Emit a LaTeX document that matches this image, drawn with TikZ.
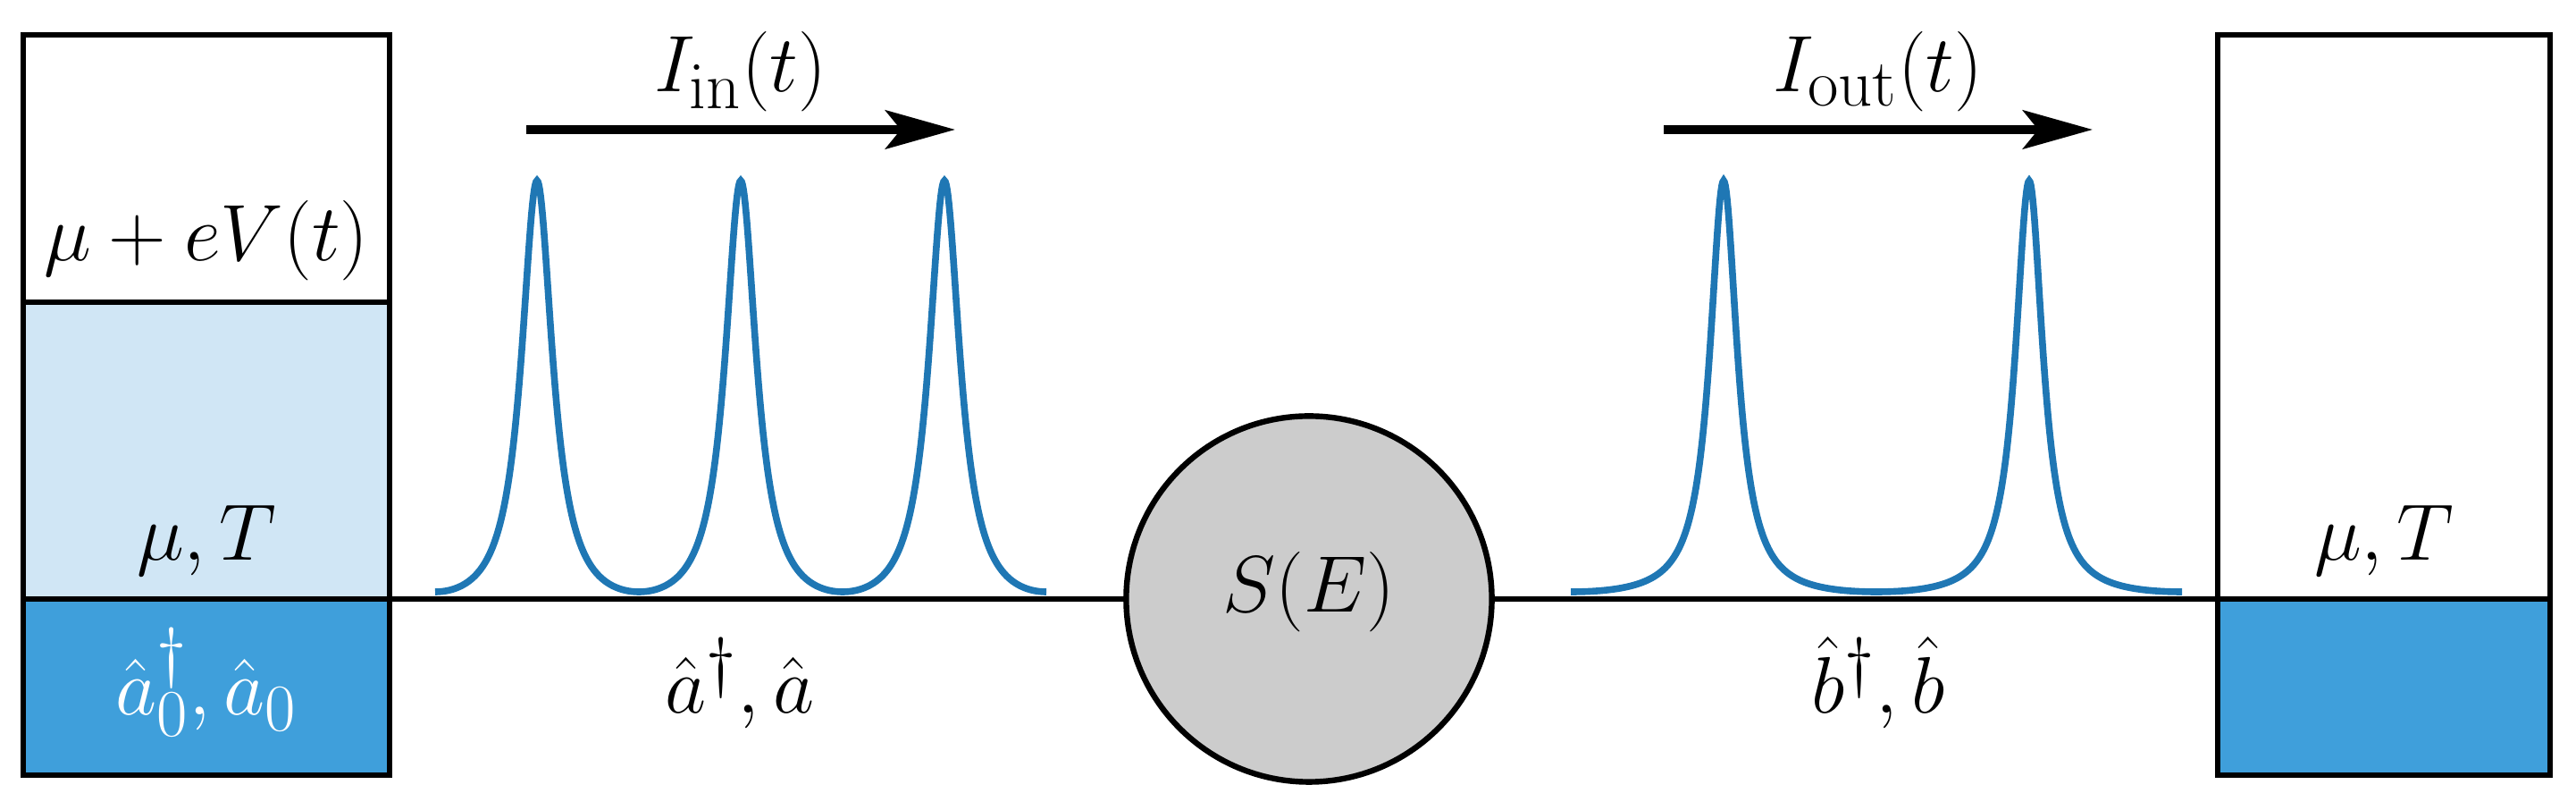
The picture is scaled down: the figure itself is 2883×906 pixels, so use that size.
\documentclass[tikz,border=0pt]{standalone}
\usetikzlibrary{arrows.meta}
\definecolor{darkb}{HTML}{3F9FDB}
\definecolor{lightb}{HTML}{D0E6F5}
\definecolor{pulseb}{HTML}{1F77B4}
\definecolor{greyc}{HTML}{CCCCCC}
\begin{document}
\begin{tikzpicture}[x=0.25pt,y=-0.25pt,font=\fontsize{24.88}{30}\selectfont,
  box/.style={draw,line width=1.6pt,rectangle,inner sep=0pt,outer sep=0pt},
  wire/.style={line width=1.5pt},
  pulse/.style={draw=pulseb,line width=1.9pt},
  flow/.style={line width=2.3pt,-{Stealth[length=19.5pt,width=10.8pt,inset=4.3pt]}},
  txt/.style={scale=0.9,transform shape},
  lbl/.style={txt,anchor=base,inner sep=0pt}]
\useasboundingbox (0,0) rectangle (2883,906);
\pgfmathsetmacro\Ca{cosh(2*pi*21.3/228)}
\pgfmathsetmacro\Ma{1/(\Ca+1)}
\pgfmathsetmacro\Na{1/(\Ca-1)-\Ma}
\pgfmathsetmacro\Cb{cosh(2*pi*18.7/342)}
\pgfmathsetmacro\Mb{1/(\Cb+1)}
\pgfmathsetmacro\Nb{1/(\Cb-1)-\Mb}
\pgfmathsetmacro\Ka{360/228}
\pgfmathsetmacro\Kb{360/342}
% reservoir fills
\fill[lightb] (26,338) rectangle (436,670);
\fill[darkb] (26,670) rectangle (436,867);
\fill[darkb] (2482,670) rectangle (2854,867);
% reservoirs
\node[box,minimum width=102.5pt,minimum height=207pt] (L) at (231,453) {};
\node[box,minimum width=93pt,minimum height=207pt] (R) at (2668,453) {};
\draw[wire] (26,338) -- (436,338);
\draw[wire] (26,670) -- (436,670);
\draw[wire] (2482,670) -- (2854,670);
% scatterer
\node[circle,draw,fill=greyc,line width=1.6pt,minimum size=102.3pt,inner sep=0pt,outer sep=0pt] (S) at (1465,670) {};
\node[txt] (SE) at (1465,662) {$S(E)$};
\coordinate (Lr) at (436,670);
\coordinate (Rl) at (2482,670);
\draw[wire] (Lr) -- (S);
\draw[wire] (S) -- (Rl);
% pulses
\draw[pulse] plot[domain=487:1171,samples=685,variable=\x] (\x,{662-460*((1/(\Ca-cos(\Ka*(\x-601)))-\Ma)/\Na)});
\draw[pulse] plot[domain=1758:2442,samples=685,variable=\x] (\x,{662-460*((1/(\Cb-cos(\Kb*(\x-1929)))-\Mb)/\Nb)});
% current arrows
\coordinate (ia) at (589,145);
\coordinate (ib) at (1069,145);
\coordinate (oa) at (1862,145);
\coordinate (ob) at (2342,145);
\draw[flow] (ia) -- (ib);
\draw[flow] (oa) -- (ob);
\node[lbl] (Iin) at (829,103) {$I_{\mathrm{in}}(t)$};
\node[lbl] (Iout) at (2102,103) {$I_{\mathrm{out}}(t)$};
% labels
\node[lbl] (muV) at (231,292) {$\mu+eV(t)$};
\node[lbl] (muTL) at (231,627) {$\mu,T$};
\node[lbl,text=white] (a0) at (231,800) {$\hat a_0^\dagger,\hat a_0$};
\node[lbl] (muTR) at (2668,627) {$\mu,T$};
\node[lbl] (aa) at (828,798) {$\hat a^\dagger,\hat a$};
\node[lbl] (bb) at (2102,798) {$\hat b^\dagger,\hat b$};
\end{tikzpicture}
\end{document}
